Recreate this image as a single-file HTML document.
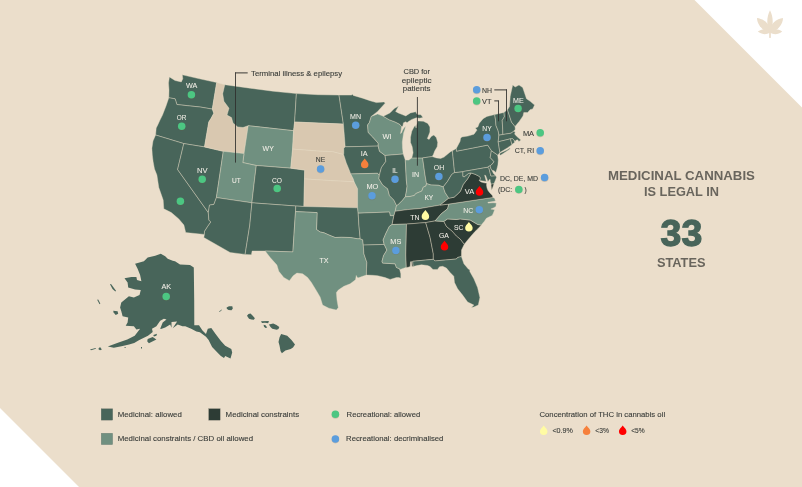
<!DOCTYPE html>
<html lang="en"><head><meta charset="utf-8"><title>Medicinal cannabis is legal in 33 states</title>
<style>html,body{margin:0;padding:0;background:#ebdecb}body{width:802px;height:487px;overflow:hidden}svg{display:block}</style></head>
<body>
<svg width="802" height="487" viewBox="0 0 802 487">
<rect width="802" height="487" fill="#ebdecb"/>
<polygon points="694.5,0 802,0 802,107.5" fill="#fff"/>
<polygon points="0,408 79,487 0,487" fill="#fff"/>
<g stroke="#e6dbc6" stroke-width="0.4" stroke-linejoin="round">
<polygon fill="#48655a" points="168.8,97.8 169,90 168.5,83 169.4,76.9 175,80.5 181.3,81.9 182.8,78.8 182.3,74.8 199.5,78.8 216.7,82.5 212.3,109.1 200.1,107 187.6,105.7 176.9,104.5 175.1,98.8"/>
<polygon fill="#48655a" points="155.6,135 156.2,128 157.5,125.5 160,120 162.5,115 166,106 168.8,97.8 175.1,98.8 176.9,104.5 187.6,105.7 200.1,107 212.3,109.1 213.9,113.2 211,118.5 208.8,122 204.5,146.9 183.8,143.6"/>
<polygon fill="#48655a" points="155.6,135 183.8,143.6 177.6,169.5 208.3,212.6 208.9,220.1 210.8,222 207.7,226.4 204.5,231.4 204.4,234.4 185.7,232.6 183.9,225.1 178.8,218.9 171.3,212.6 163.8,208.8 163.2,200.1 158.8,187.5 156.9,175 154.5,169 153.1,161.4 152.3,155 151.9,148.2 153,141"/>
<polygon fill="#48655a" points="183.8,143.6 204.5,146.9 223.3,151.3 216.4,197.6 213.9,204.4 209.5,205.1 208.3,212.6 177.6,169.5"/>
<polygon fill="#d9c8b0" points="216.7,82.5 224.8,84.7 222.7,93.8 223.9,101.3 229,108.2 227,115.1 231.5,117.6 233,123 237.7,126.9 243,127.5 248.2,125.7 244,153.6 223.3,151.3 204.5,146.9 208.8,122 211,118.5 213.9,113.2 212.3,109.1"/>
<polygon fill="#48655a" points="224.8,84.7 250,88.2 273,91.2 296.4,93.6 294.6,122 293.6,130.7 248.2,125.7 243,127.5 237.7,126.9 233,123 231.5,117.6 227,115.1 229,108.2 223.9,101.3 222.7,93.8"/>
<polygon fill="#709080" points="248.2,125.7 293.6,130.7 292.6,149.1 290.8,168.2 256.3,165.5 242.8,162.6 244,153.6"/>
<polygon fill="#709080" points="223.3,151.3 244,153.6 242.8,162.6 256.3,165.5 254.4,181 251.9,202.8 216.4,197.6"/>
<polygon fill="#48655a" points="216.4,197.6 251.9,202.8 249.8,225 245.1,254.4 230.1,252.5 203.8,237.5 204.4,234.4 204.5,231.4 207.7,226.4 210.8,222 208.9,220.1 208.3,212.6 209.5,205.1 213.9,204.4"/>
<polygon fill="#48655a" points="256.3,165.5 290.8,168.2 304.7,170.1 304.5,178.9 303.9,206.5 295.8,206 251.9,202.8 254.4,181"/>
<polygon fill="#48655a" points="251.9,202.8 295.8,206 295.5,211.6 294.6,225 292.9,251.9 265.2,251 252.1,251 251.4,254.8 245.1,254.4 249.8,225"/>
<polygon fill="#48655a" points="296.4,93.6 318,94.7 339,95.1 343.4,124.1 294.6,122"/>
<polygon fill="#d9c8b0" points="294.6,122 343.4,124.1 344.4,136.3 345.2,146.8 343.8,148.2 343.8,153.5 343.6,154.6 337.7,153 332.2,151.6 320,151.2 292.6,149.1 293.6,130.7"/>
<polygon fill="#d9c8b0" points="292.6,149.1 320,151.2 332.2,151.6 337.7,153 343.6,154.6 344.7,157.9 346.3,162.9 348.8,168.9 350.7,173.9 353.2,178.8 354.2,181.8 330.3,180.6 304.5,178.9 304.7,170.1 290.8,168.2"/>
<polygon fill="#d9c8b0" points="304.5,178.9 330.3,180.6 354.2,181.8 355.1,183.8 357.6,188.8 357.6,207.8 303.9,206.5"/>
<polygon fill="#48655a" points="295.8,206 303.9,206.5 357.6,207.8 358.2,213.2 358.9,225 360.2,238.8 357.7,238.8 350.2,237.5 341.4,237.3 335.1,237.5 328.9,235 324,232.8 320.2,232 316.5,229.5 317.1,212.6 295.5,211.6"/>
<polygon fill="#709080" points="295.5,211.6 317.1,212.6 316.5,229.5 320.2,232 324,232.8 328.9,235 335.1,237.5 341.4,237.3 350.2,237.5 357.7,238.8 360.2,238.8 362.7,239.8 363.3,245.1 363.9,253.8 366.9,262.5 366.5,268.9 366.4,275.1 362.7,276.3 358.5,277.8 357.2,277.5 356.3,275.5 355.5,279.8 350.2,283.8 343.9,286.3 338.3,290.1 336.4,292.6 337,300.1 338.3,307.6 336.4,310.1 328.9,308.2 322.6,305.1 320.1,297 316.4,290.7 311.4,282.5 307.6,277.5 302.6,273.8 296.9,273.1 293.2,275.7 289.4,280.7 283.8,277.5 278.8,271.3 276.9,265 270.2,257.6 265.2,251 292.9,251.9 294.6,225"/>
<polygon fill="#48655a" points="339,95.1 351.7,95.1 352.3,94 353.3,95.4 362.6,98.2 370,100.7 376.3,102.6 383.9,102 385.3,103 377.6,111.4 371.3,116.4 369.4,122.6 367.6,125 368.2,132.5 372.6,136.9 378.2,143.2 378.2,146.1 345.2,146.8 344.4,136.3 343.4,124.1"/>
<polygon fill="#48655a" points="345.2,146.8 378.2,146.1 379.5,151.3 385.1,155.5 385.8,161.4 381.4,167.6 379.3,175.5 377.6,173.3 350.7,173.9 348.8,168.9 346.3,162.9 344.7,157.9 343.6,154.6 343.8,153.5 343.8,148.2"/>
<polygon fill="#709080" points="350.7,173.9 377.6,173.3 379.3,175.5 378.9,178.8 382.7,185 387.7,188.8 389.5,195.7 393.9,200.1 396.5,205.4 395.2,211.3 393.9,215.7 390.2,215.7 389.5,212 358.2,213.2 357.6,207.8 357.6,188.8 355.1,183.8 354.2,181.8 353.2,178.8"/>
<polygon fill="#48655a" points="358.2,213.2 389.5,212 390.2,215.7 393.9,215.7 392.1,224.5 389.4,226.3 385.7,233.8 383.1,240 384.2,244.4 363.3,245.1 362.7,239.8 360.2,238.8 358.9,225"/>
<polygon fill="#48655a" points="363.3,245.1 384.2,244.4 386.9,250.1 383.6,255.5 382,261.3 382.6,263.1 395.1,263.8 396.4,267.5 399.5,268.8 400.8,273.8 400.8,278.2 398.8,277.6 396.4,277.6 390.1,279.4 385.1,277.6 377.6,275.7 372.7,275.3 366.4,275.1 366.5,268.9 366.9,262.5 363.9,253.8"/>
<polygon fill="#709080" points="371.3,116.4 377.6,113.9 379,114.5 383.4,116.3 389.1,119.7 395.2,122 399.7,124.3 401.6,126.6 401.2,130 400.5,133.6 401.4,133 402.7,130 404.3,127.4 405.5,126.3 405,129 403.6,133.1 402.3,142 402.5,148 403.2,154 385.1,155.5 379.5,151.3 378.2,146.1 378.2,143.2 372.6,136.9 368.2,132.5 367.6,125 369.4,122.6"/>
<polygon fill="#48655a" points="385.1,155.5 403.2,154 405.3,160.1 406.4,181 407.1,186.3 406.3,192 405.3,196.8 402.7,200.1 397.7,205.1 396.5,205.4 393.9,200.1 389.5,195.7 387.7,188.8 382.7,185 378.9,178.8 379.3,175.5 381.4,167.6 385.8,161.4"/>
<polygon fill="#709080" points="405.3,160.1 408.8,160.1 411.8,157.9 422.6,157.9 425,175 426.5,183.6 426,185.9 423.2,187.2 421.9,191 415.8,193.6 414.3,195.5 410,196.5 405.3,196.8 406.3,192 407.1,186.3 406.4,181"/>
<polygon fill="#48655a" points="411.8,157.9 413.1,152.8 412.2,146.7 410.5,142.4 410.5,137.2 411.8,131.2 414,126.9 415.3,125.2 416.1,128 416.6,125.2 417.8,120.9 423.4,121.3 427.8,123.4 429.9,126.9 429.9,132.1 428.2,136.4 427.3,138.5 429.1,139.4 431.2,136.4 433.8,135.1 436.4,137.7 437.7,142.4 437.2,146.7 434.7,151 433.4,154.5 432.1,156.6 422.6,157.9"/>
<polygon fill="#48655a" points="383.4,116.3 389.9,112.9 394.4,108.4 398.6,106.1 397.8,107.6 395.6,111.4 398.2,112.9 402.8,114.8 405.8,115.9 410.4,112.9 415.7,111.8 417.2,114.4 421,114.8 422.9,117.5 419.5,118.2 416.4,117.8 411.9,119.4 408.9,121.3 407,122.8 405.8,121.7 403.5,122.8 402.8,126.2 401.6,126.6 399.7,124.3 395.2,122 389.1,119.7"/>
<polygon fill="#48655a" points="422.6,157.9 432.1,156.6 436.4,157.9 440.7,158.4 444.1,157.1 450.2,151.9 452.4,150.7 454.6,172.6 452.8,173.5 451.4,175 450,177.2 447.6,181.3 443.2,186.9 438.5,185.3 430.9,185 426.5,183.6 425,175"/>
<polygon fill="#709080" points="405.3,196.8 410,196.5 414.3,195.5 415.8,193.6 421.9,191 423.2,187.2 426,185.9 426.5,183.6 430.9,185 438.5,185.3 443.2,186.9 445.1,192.5 448.8,198.2 440.1,205.1 420.3,208.5 407.7,209.6 395.2,211.3 396.5,205.4 397.7,205.1 402.7,200.1"/>
<polygon fill="#2d3c35" points="395.2,211.3 407.7,209.6 420.3,208.5 440.1,205.1 448.8,204.1 447.6,208.8 441.3,213.8 435.1,220.9 425.7,222.6 406.5,224.1 392.1,224.5 393.9,215.7"/>
<polygon fill="#709080" points="392.1,224.5 406.5,224.1 405.8,255 406.3,267.6 405.8,267.5 400.2,269.4 399.5,268.8 396.4,267.5 395.1,263.8 382.6,263.1 382,261.3 383.6,255.5 386.9,250.1 384.2,244.4 383.1,240 385.7,233.8 389.4,226.3"/>
<polygon fill="#2d3c35" points="406.5,224.1 425.7,222.6 430.1,237.5 433.3,253.8 433.3,259.3 412.7,261.3 413.2,266.4 411.9,266.6 411.5,261.6 410.5,261.8 410.2,266.6 408.2,267.2 406.3,267.6 405.8,255"/>
<polygon fill="#2d3c35" points="425.7,222.6 435.1,220.9 443.8,221.4 446.5,226.5 452,231 456.5,236 460.2,239 464.3,244.2 461.5,250.1 461.4,256.5 457.6,257.5 456.4,259 435.1,260.9 433.3,259.3 433.3,253.8 430.1,237.5"/>
<polygon fill="#48655a" points="413.2,266.4 412.7,261.3 433.3,259.3 435.1,260.9 456.4,259 457.6,257.5 461.4,256.5 463.9,263.8 468.3,269 469.9,270 469.8,271.5 473.9,278.8 477.6,287.6 479.9,297.6 478.3,305.1 473.9,307 471.4,307.4 473.9,305.1 467.6,302 462.6,295.1 457.6,288.8 454.5,282.6 453.8,276.3 450.1,272.5 446.4,268 442.6,266.3 439.5,266.8 437.5,269.4 433,269.5 430,266.6 427.5,265.5 421.5,264.8 417,265.6"/>
<polygon fill="#2d3c35" points="443.8,221.4 447.6,218.9 456.4,219.5 460.1,218.9 470.2,220.1 477.7,224.5 481.4,225.1 477.7,228.9 475,231.5 471.5,235.5 467.7,240 464.3,244.2 460.2,239 456.5,236 452,231 446.5,226.5"/>
<polygon fill="#709080" points="448.8,204.1 493,197.4 494.6,198.2 495.5,201.1 493,201.5 487.9,202.3 488,203.1 493,202.7 496.3,203.1 495.9,206.4 493.8,207.7 490.9,209.1 494.6,209.7 493.4,213 492.2,215.5 488.9,217.1 486.4,218.3 484.4,221.2 482.3,223.7 481.4,225.1 477.7,224.5 470.2,220.1 460.1,218.9 456.4,219.5 447.6,218.9 443.8,221.4 435.1,220.9 441.3,213.8 447.6,208.8"/>
<polygon fill="#2d3c35" points="448.8,198.2 440.1,205.1 448.8,204.1 493,197.4 492.2,195.3 489.5,192.5 488,190.5 487,188 486.5,185 486.8,183.2 484,182.8 481,181.9 479.3,180.6 480.4,179 480.2,177.2 478.4,175.9 475,174.2 470.7,172.9 470.5,174 467.5,179 463.2,184.5 460.5,191 458.8,193 454.1,197.2"/>
<polygon fill="#48655a" points="454.6,172.6 452.8,173.5 451.4,175 450,177.2 447.6,181.3 443.2,186.9 445.1,192.5 448.8,198.2 454.1,197.2 458.8,193 460.5,191 463.2,184.5 467.5,179 470.5,174 470.7,172.9 468.5,173.4 464.2,176.8 462.9,176.4 462.9,171.6"/>
<polygon fill="#48655a" points="452.4,150.7 456.3,148.4 456.5,151.2 487.7,145.1 491.4,150.7 490.2,157.6 493.9,161.5 493,163.3 490.1,165.9 488.8,166.2 487.9,167.2 462.9,171.6 454.6,172.6"/>
<polygon fill="#48655a" points="462.9,171.6 487.9,167.2 489,168.5 490.9,176 495.8,175.7 496.5,177.2 495.5,180 494,183.7 491.2,184.3 490.3,181.8 490.2,179.8 489.8,179.2 487.8,181.8 487,179 485.6,175.4 484.6,175.2 485.5,178.5 486.3,181.4 483,181 479.3,180.6 480.4,179 480.2,177.2 478.4,175.9 475,174.2 470.7,172.9 468.5,173.4 464.2,176.8 462.9,176.4"/>
<polygon fill="#48655a" points="487.9,167.2 488.8,166.2 490.1,165.9 490.7,168 491.8,170.2 493.7,173.8 495.8,175.7 490.9,176 489,168.5"/>
<polygon fill="#48655a" points="491.4,150.7 497.7,155.1 498.3,160 497.9,164.9 496.9,169 495.8,172.5 494,170.8 491.8,170.2 490.7,168 490.1,165.9 493,163.3 493.9,161.5 490.2,157.6"/>
<polygon fill="#48655a" points="456.3,148.4 460.1,141.3 460.5,138.4 461.8,136.9 467.9,136.1 474,134.2 477,130.1 475.3,127.9 477.8,127 479.3,123.2 483.1,118.7 486.9,116.4 494.7,114.6 495.6,120.3 496,125.6 498.2,130.9 498.9,135.2 498.2,141.8 499.9,152.6 498.8,154 497.7,155.1 491.4,150.7 487.7,145.1 456.5,151.2"/>
<polygon fill="#48655a" points="494.7,114.6 504,112.4 504.4,116.8 502.2,120.3 502.7,129.1 502.9,134.5 498.9,135.2 498.2,130.9 496,125.6 495.6,120.3"/>
<polygon fill="#48655a" points="504,112.4 506,110.8 507.5,109.7 511.5,122.1 515,126.5 515.3,129.3 513.7,131.3 511,133.2 502.9,134.5 502.7,129.1 502.2,120.3 504.4,116.8"/>
<polygon fill="#48655a" points="507.5,109.7 509.5,106.4 510.2,96.3 512.7,85 515.2,87 519,85 522.7,87.6 526.5,98.8 530.2,101.3 534.6,105.1 532.7,108.9 530,109.7 527.7,112.6 523.8,112.4 523,115.9 519.4,121.2 515,126.5 511.5,122.1"/>
<polygon fill="#48655a" points="498.9,135.2 502.9,134.5 511,133.2 513.7,131.3 515.3,131.9 514.6,133.9 516.3,135.9 518.3,137.8 520.9,140.1 518.9,141.4 517.6,139.8 516,140.3 515,141.5 514,140.1 512.7,138.8 510.4,138.8 498.2,141.8"/>
<polygon fill="#48655a" points="498.2,141.8 510.4,138.8 512,144.7 507.7,147.7 503.1,150.6 499.9,152.6"/>
<polygon fill="#48655a" points="510.4,138.8 512.7,138.8 514,140.1 514.6,142.4 512.3,144.1 512,144.7"/>
<polygon fill="#2d3c35" points="494,183.7 492.9,187 491.6,190.2 491,184.3"/>
<polygon fill="#48655a" points="499.6,154.2 500.2,152.9 506.4,150.3 509.7,148.3 510.3,148.8 507,151 500.5,155.2"/>
</g>
<g fill="#48655a">
<polygon points="135.1,263.8 143.9,261.3 147.7,257.5 155.2,255.7 160.8,253.8 165.2,256.3 167.7,258.8 172.7,260.7 175,261.3 180,264.4 190,265 193.8,267.6 194.2,300 194.3,325.3 199,325.3 202.5,330.5 206,334 207.8,328.8 211.3,327.9 215.6,334 220.9,341 225.2,345.7 231.3,348.9 232.2,352.4 230.5,358.5 225.2,355.9 224,358 220.9,355.9 217.4,352.4 212.1,347.1 208.6,340.1 206,336.7 199.9,332.3 196.4,331.4 191.2,328.8 185.3,326.3 182.5,326.2 177.7,324.4 172.7,328.2 177.1,321.6 171.5,322 171.5,327.8 170.2,324.5 165.2,327.6 161,329 160.2,328.8 162.7,322.6 166.5,319.4 163.9,318.8 160.2,320.7 156.4,326.3 152,328.8 152.7,332 148,335.8 139.3,339.9 134.2,343 129.1,344.4 121.5,346.3 113.8,347.8 107.8,346.6 111.1,345.2 118.6,342.6 127.3,339.5 134.7,335.8 140.1,328.8 136.4,329.5 133.9,326.3 125.7,325.7 127.6,322.6 128.2,317.6 122.6,316.3 121.3,311.3 120.1,307.5 121.3,302.5 128.9,296.3 133.9,297.6 139.5,295.1 140.8,290.1 135.1,289.5 128.2,287.6 127.6,282.6 124.5,278.2 131.4,277 136.4,277 137,280.1 141.4,281.3 140.1,275.1 137.6,268.8"/>
<polygon points="110,284.2 111,284 116,290.8 115.4,291.6 112.5,289"/>
<polygon points="97.2,299.8 98.2,299.6 100.3,303.5 99.5,304.2"/>
<polygon points="113.2,310.7 117.6,311.3 118.2,313.8 115.7,315 113.6,312.5"/>
<polygon points="147.7,338.9 152.7,337 156.4,339.5 148.9,343.2 147.2,341.3"/>
<polygon points="153.3,335.1 157,333.8 156.4,335.7 153.9,336.4"/>
<polygon points="90,349.6 95.7,348.1 95.9,348.8 91,350.2"/>
<polygon points="98.2,348.9 100,347 101.9,349.5 100,350.3"/>
<polygon points="124.6,347.1 125.6,347.1 125.6,348.1 124.6,348.1"/>
<polygon points="141,347 142,347 142,348.4 141,348.4"/>
<polygon points="219.1,311.4 221.7,309.4 221.9,310 219.6,311.9"/>
<polygon points="226.6,307.5 229,306.2 232.3,306.3 232.8,308.5 231.5,310.3 228.5,310 226.8,308.8"/>
<polygon points="247,315.7 248.5,314 250.5,313.6 252.5,315.5 254.9,318.3 253.8,319.8 251.4,319.5 249,318.8"/>
<polygon points="261,321.3 268.9,321 268.2,323.2 265,322.8 262,323"/>
<polygon points="263.6,324.8 265.5,325.3 267.2,327.5 265.5,328 264,326.8"/>
<polygon points="268.9,324.4 273.2,323.6 276.5,325 279.3,327.1 278.5,329 276.7,329.7 272.3,328.8 270.5,327"/>
<polygon points="281.1,334 287.2,335.8 291.5,340 295,344.5 293,347.5 290.7,348.9 285.4,350.6 281.9,353.2 280.5,351 280.2,348.9 279.5,345.5 278.5,341.9 279.5,337.5"/>
</g>
<g fill="none" stroke="#2e2e2c" stroke-width="0.85"><path d="M235.5,72.4V162.6"/><path d="M417.4,97V165.7"/><path d="M506.5,89.3V121.3"/><path d="M498.5,100.6V121.3"/></g>
<g fill="none" stroke="#3a3835" stroke-width="1"><path d="M247.7,72.9H235.1"/><path d="M494.3,89.9H506.9"/><path d="M494.3,100.9H498.9"/></g>
<g font-family="Liberation Sans, sans-serif">
<g stroke="#f4f0e8" stroke-width="0.05">
<text x="186.1" y="87.9" font-size="8.1" fill="#f4f0e8" textLength="11.3" lengthAdjust="spacingAndGlyphs">WA</text>
<text x="176.7" y="119.5" font-size="8.1" fill="#f4f0e8" textLength="9.6" lengthAdjust="spacingAndGlyphs">OR</text>
<text x="197" y="172.6" font-size="8.1" fill="#f4f0e8" textLength="10.6" lengthAdjust="spacingAndGlyphs">NV</text>
<text x="231.9" y="182.5" font-size="8.1" fill="#f4f0e8" textLength="8.8" lengthAdjust="spacingAndGlyphs">UT</text>
<text x="272" y="182.5" font-size="8.1" fill="#f4f0e8" textLength="10" lengthAdjust="spacingAndGlyphs">CO</text>
<text x="262.6" y="150.7" font-size="8.1" fill="#f4f0e8" textLength="11.2" lengthAdjust="spacingAndGlyphs">WY</text>
<text x="161.4" y="288.9" font-size="8.1" fill="#f4f0e8" textLength="9.8" lengthAdjust="spacingAndGlyphs">AK</text>
<text x="319.5" y="262.6" font-size="8.1" fill="#f4f0e8" textLength="9.1" lengthAdjust="spacingAndGlyphs">TX</text>
<text x="350" y="118.9" font-size="8.1" fill="#f4f0e8" textLength="11" lengthAdjust="spacingAndGlyphs">MN</text>
<text x="360.7" y="156.1" font-size="8.1" fill="#f4f0e8" textLength="6.9" lengthAdjust="spacingAndGlyphs">IA</text>
<text x="366.4" y="189.4" font-size="8.1" fill="#f4f0e8" textLength="11.9" lengthAdjust="spacingAndGlyphs">MO</text>
<text x="382.6" y="138.8" font-size="8.1" fill="#f4f0e8" textLength="9.1" lengthAdjust="spacingAndGlyphs">WI</text>
<text x="392.3" y="172.6" font-size="8.1" fill="#f4f0e8" textLength="5.4" lengthAdjust="spacingAndGlyphs">IL</text>
<text x="412.1" y="177.3" font-size="8.1" fill="#f4f0e8" textLength="7.1" lengthAdjust="spacingAndGlyphs">IN</text>
<text x="433.8" y="169.9" font-size="8.1" fill="#f4f0e8" textLength="10.3" lengthAdjust="spacingAndGlyphs">OH</text>
<text x="424.4" y="200.1" font-size="8.1" fill="#f4f0e8" textLength="8.8" lengthAdjust="spacingAndGlyphs">KY</text>
<text x="410.2" y="219.5" font-size="8.1" fill="#f4f0e8" textLength="9.2" lengthAdjust="spacingAndGlyphs">TN</text>
<text x="390.3" y="243.8" font-size="8.1" fill="#f4f0e8" textLength="11" lengthAdjust="spacingAndGlyphs">MS</text>
<text x="438.9" y="238.2" font-size="8.1" fill="#f4f0e8" textLength="10" lengthAdjust="spacingAndGlyphs">GA</text>
<text x="453.9" y="230.1" font-size="8.1" fill="#f4f0e8" textLength="9.4" lengthAdjust="spacingAndGlyphs">SC</text>
<text x="463.3" y="212.6" font-size="8.1" fill="#f4f0e8" textLength="10" lengthAdjust="spacingAndGlyphs">NC</text>
<text x="464.8" y="193.8" font-size="8.1" fill="#f4f0e8" textLength="9.4" lengthAdjust="spacingAndGlyphs">VA</text>
<text x="482.3" y="130.8" font-size="8.1" fill="#f4f0e8" textLength="9.4" lengthAdjust="spacingAndGlyphs">NY</text>
<text x="513.1" y="102.6" font-size="8.1" fill="#f4f0e8" textLength="10.6" lengthAdjust="spacingAndGlyphs">ME</text>
</g><g stroke="#3a3d3a" stroke-width="0.12">
<text x="315.8" y="162" font-size="8.1" fill="#3a3d3a" textLength="9.4" lengthAdjust="spacingAndGlyphs">NE</text>
<text x="482" y="92.6" font-size="8.1" fill="#3a3d3a" textLength="10" lengthAdjust="spacingAndGlyphs">NH</text>
<text x="482" y="103.6" font-size="8.1" fill="#3a3d3a" textLength="9.4" lengthAdjust="spacingAndGlyphs">VT</text>
<text x="522.9" y="135.6" font-size="8.1" fill="#3a3d3a" textLength="11.2" lengthAdjust="spacingAndGlyphs">MA</text>
<text x="514.7" y="153.4" font-size="8.1" fill="#3a3d3a" textLength="19.4" lengthAdjust="spacingAndGlyphs">CT, RI</text>
<text x="499.9" y="180.5" font-size="8.1" fill="#3a3d3a" textLength="38.2" lengthAdjust="spacingAndGlyphs">DC, DE, MD</text>
<text x="498" y="192.3" font-size="8.1" fill="#3a3d3a" textLength="14.3" lengthAdjust="spacingAndGlyphs">(DC:</text>
<text x="524.4" y="192.3" font-size="8.1" fill="#3a3d3a" textLength="2.2" lengthAdjust="spacingAndGlyphs">)</text>
<text x="251" y="75.5" font-size="8.1" fill="#3a3d3a" textLength="91.1" lengthAdjust="spacingAndGlyphs">Terminal illness &amp; epilepsy</text>
<text x="403.5" y="73.5" font-size="8.1" fill="#3a3d3a" textLength="26.5" lengthAdjust="spacingAndGlyphs">CBD for</text>
<text x="401.8" y="82.5" font-size="8.1" fill="#3a3d3a" textLength="29.7" lengthAdjust="spacingAndGlyphs">epileptic</text>
<text x="402.8" y="91.3" font-size="8.1" fill="#3a3d3a" textLength="27.7" lengthAdjust="spacingAndGlyphs">patients</text>
<rect x="101.2" y="408.7" width="11.5" height="11.5" fill="#48655a"/>
<rect x="208.7" y="408.7" width="11.5" height="11.5" fill="#2d3c35"/>
<rect x="101.2" y="433.2" width="11.5" height="11.5" fill="#709080"/>
<text x="117.7" y="417" font-size="8.1" fill="#3a3d3a" textLength="64.1" lengthAdjust="spacingAndGlyphs">Medicinal: allowed</text>
<text x="225.6" y="417" font-size="8.1" fill="#3a3d3a" textLength="73.5" lengthAdjust="spacingAndGlyphs">Medicinal constraints</text>
<text x="117.7" y="441.2" font-size="8.1" fill="#3a3d3a" textLength="135.4" lengthAdjust="spacingAndGlyphs">Medicinal constraints / CBD oil allowed</text>
<text x="346.6" y="417" font-size="8.1" fill="#3a3d3a" textLength="73.6" lengthAdjust="spacingAndGlyphs">Recreational: allowed</text>
<text x="346.1" y="441.2" font-size="8.1" fill="#3a3d3a" textLength="97.3" lengthAdjust="spacingAndGlyphs">Recreational: decriminalised</text>
<text x="539.5" y="416.7" font-size="8.1" fill="#3a3d3a" textLength="125.6" lengthAdjust="spacingAndGlyphs">Concentration of THC in cannabis oil</text>
<text x="552.4" y="432.6" font-size="8.1" fill="#3a3d3a" textLength="20.5" lengthAdjust="spacingAndGlyphs">&lt;0.9%</text>
<text x="595.3" y="432.6" font-size="8.1" fill="#3a3d3a" textLength="13.7" lengthAdjust="spacingAndGlyphs">&lt;3%</text>
<text x="631.2" y="432.6" font-size="8.1" fill="#3a3d3a" textLength="13.5" lengthAdjust="spacingAndGlyphs">&lt;5%</text>
</g>
<text x="608" y="179.9" font-size="13" fill="#69655d" textLength="146.9" lengthAdjust="spacingAndGlyphs" font-weight="bold">MEDICINAL CANNABIS</text>
<text x="644" y="195.7" font-size="13" fill="#69655d" textLength="74.9" lengthAdjust="spacingAndGlyphs" font-weight="bold">IS LEGAL IN</text>
<text stroke="#48655a" stroke-width="1.3" x="660.6" y="246.1" font-size="36.6" fill="#48655a" textLength="41.6" lengthAdjust="spacingAndGlyphs" font-weight="bold">33</text>
<text x="656.9" y="266.7" font-size="13" fill="#69655d" textLength="48.6" lengthAdjust="spacingAndGlyphs" font-weight="bold">STATES</text>
</g>
<circle cx="191.4" cy="95.4" r="3.8" fill="#7a5c3c" opacity="0.22"/>
<circle cx="181.7" cy="127" r="3.8" fill="#7a5c3c" opacity="0.22"/>
<circle cx="202.2" cy="179.9" r="3.8" fill="#7a5c3c" opacity="0.22"/>
<circle cx="180.4" cy="202" r="3.8" fill="#7a5c3c" opacity="0.22"/>
<circle cx="277.2" cy="189.2" r="3.8" fill="#7a5c3c" opacity="0.22"/>
<circle cx="166.2" cy="297.1" r="3.8" fill="#7a5c3c" opacity="0.22"/>
<circle cx="518.1" cy="109.1" r="3.8" fill="#7a5c3c" opacity="0.22"/>
<circle cx="476.7" cy="101.7" r="3.8" fill="#7a5c3c" opacity="0.22"/>
<circle cx="540.2" cy="133.5" r="3.8" fill="#7a5c3c" opacity="0.22"/>
<circle cx="518.8" cy="190.1" r="3.8" fill="#7a5c3c" opacity="0.22"/>
<circle cx="335.4" cy="414.9" r="3.8" fill="#7a5c3c" opacity="0.22"/>
<circle cx="476.7" cy="90.5" r="3.8" fill="#7a5c3c" opacity="0.22"/>
<circle cx="355.7" cy="126" r="3.8" fill="#7a5c3c" opacity="0.22"/>
<circle cx="320.6" cy="169.6" r="3.8" fill="#7a5c3c" opacity="0.22"/>
<circle cx="372" cy="196.4" r="3.8" fill="#7a5c3c" opacity="0.22"/>
<circle cx="395" cy="179.9" r="3.8" fill="#7a5c3c" opacity="0.22"/>
<circle cx="438.9" cy="177.3" r="3.8" fill="#7a5c3c" opacity="0.22"/>
<circle cx="487" cy="138.2" r="3.8" fill="#7a5c3c" opacity="0.22"/>
<circle cx="479.3" cy="210.4" r="3.8" fill="#7a5c3c" opacity="0.22"/>
<circle cx="395.9" cy="251.1" r="3.8" fill="#7a5c3c" opacity="0.22"/>
<circle cx="540.2" cy="151.4" r="3.8" fill="#7a5c3c" opacity="0.22"/>
<circle cx="544.6" cy="178.2" r="3.8" fill="#7a5c3c" opacity="0.22"/>
<circle cx="335.4" cy="439.6" r="3.8" fill="#7a5c3c" opacity="0.22"/>
<circle cx="191.4" cy="94.7" r="3.75" fill="#4cc682"/>
<circle cx="181.7" cy="126.3" r="3.75" fill="#4cc682"/>
<circle cx="202.2" cy="179.2" r="3.75" fill="#4cc682"/>
<circle cx="180.4" cy="201.3" r="3.75" fill="#4cc682"/>
<circle cx="277.2" cy="188.5" r="3.75" fill="#4cc682"/>
<circle cx="166.2" cy="296.4" r="3.75" fill="#4cc682"/>
<circle cx="518.1" cy="108.4" r="3.75" fill="#4cc682"/>
<circle cx="476.7" cy="101" r="3.75" fill="#4cc682"/>
<circle cx="540.2" cy="132.8" r="3.75" fill="#4cc682"/>
<circle cx="518.8" cy="189.4" r="3.75" fill="#4cc682"/>
<circle cx="335.4" cy="414.2" r="3.75" fill="#4cc682"/>
<circle cx="476.7" cy="89.8" r="3.75" fill="#5b9ddd"/>
<circle cx="355.7" cy="125.3" r="3.75" fill="#5b9ddd"/>
<circle cx="320.6" cy="168.9" r="3.75" fill="#5b9ddd"/>
<circle cx="372" cy="195.7" r="3.75" fill="#5b9ddd"/>
<circle cx="395" cy="179.2" r="3.75" fill="#5b9ddd"/>
<circle cx="438.9" cy="176.6" r="3.75" fill="#5b9ddd"/>
<circle cx="487" cy="137.5" r="3.75" fill="#5b9ddd"/>
<circle cx="479.3" cy="209.7" r="3.75" fill="#5b9ddd"/>
<circle cx="395.9" cy="250.4" r="3.75" fill="#5b9ddd"/>
<circle cx="540.2" cy="150.7" r="3.75" fill="#5b9ddd"/>
<circle cx="544.6" cy="177.5" r="3.75" fill="#5b9ddd"/>
<circle cx="335.4" cy="438.9" r="3.75" fill="#5b9ddd"/>
<path d="M364.7,158.6 C366.57,161 368.45,162.63 368.45,164.45 A3.75,3.75 0 1 1 360.95,164.45 C360.95,162.63 362.82,161 364.7,158.6Z" fill="#f6803c"/>
<path d="M425.4,210.1 C427.27,212.6 429.15,214.3 429.15,216.35 A3.75,3.75 0 1 1 421.65,216.35 C421.65,214.3 423.52,212.6 425.4,210.1Z" fill="#fffba3"/>
<path d="M468.9,222 C470.77,224.35 472.65,225.95 472.65,227.65 A3.75,3.75 0 1 1 465.15,227.65 C465.15,225.95 467.02,224.35 468.9,222Z" fill="#fffba3"/>
<path d="M479.5,186 C481.38,188.43 483.25,190.07 483.25,191.95 A3.75,3.75 0 1 1 475.75,191.95 C475.75,190.07 477.62,188.43 479.5,186Z" fill="#ff0000"/>
<path d="M444.5,240.7 C446.38,243.12 448.25,244.77 448.25,246.65 A3.75,3.75 0 1 1 440.75,246.65 C440.75,244.77 442.62,243.12 444.5,240.7Z" fill="#ff0000"/>
<path d="M543.7,425.4 C545.58,427.77 547.45,429.39 547.45,431.15 A3.75,3.75 0 1 1 539.95,431.15 C539.95,429.39 541.83,427.77 543.7,425.4Z" fill="#fffba3"/>
<path d="M586.6,425.4 C588.48,427.77 590.35,429.39 590.35,431.15 A3.75,3.75 0 1 1 582.85,431.15 C582.85,429.39 584.73,427.77 586.6,425.4Z" fill="#f6803c"/>
<path d="M622.7,425.4 C624.58,427.77 626.45,429.39 626.45,431.15 A3.75,3.75 0 1 1 618.95,431.15 C618.95,429.39 620.83,427.77 622.7,425.4Z" fill="#ff0000"/>
<g fill="#ebdecb" transform="translate(770,0)"><path d="M0,10.3 C1.5,13 2.9,18 2.7,22 C2.5,26 1.5,29.5 0.8,32 L-0.8,32 C-1.5,29.5 -2.5,26 -2.7,22 C-2.9,18 -1.5,13 0,10.3Z"/><path d="M13,18 C13,24 8,30.5 0.8,32.8 L-0.4,30.4 C0.5,23.5 6.5,18.8 13,18Z"/><path d="M-13,18 C-13,24 -8,30.5 -0.8,32.8 L0.4,30.4 C-0.5,23.5 -6.5,18.8 -13,18Z"/><path d="M12.2,31.6 C8,35 3.5,34.6 0,32.8 L0,30.8 C4,28.4 8.5,29 12.2,31.6Z"/><path d="M-12.2,31.6 C-8,35 -3.5,34.6 0,32.8 L0,30.8 C-4,28.4 -8.5,29 -12.2,31.6Z"/><rect x="-0.85" y="31" width="1.7" height="6.9"/></g>
</svg>
</body></html>
